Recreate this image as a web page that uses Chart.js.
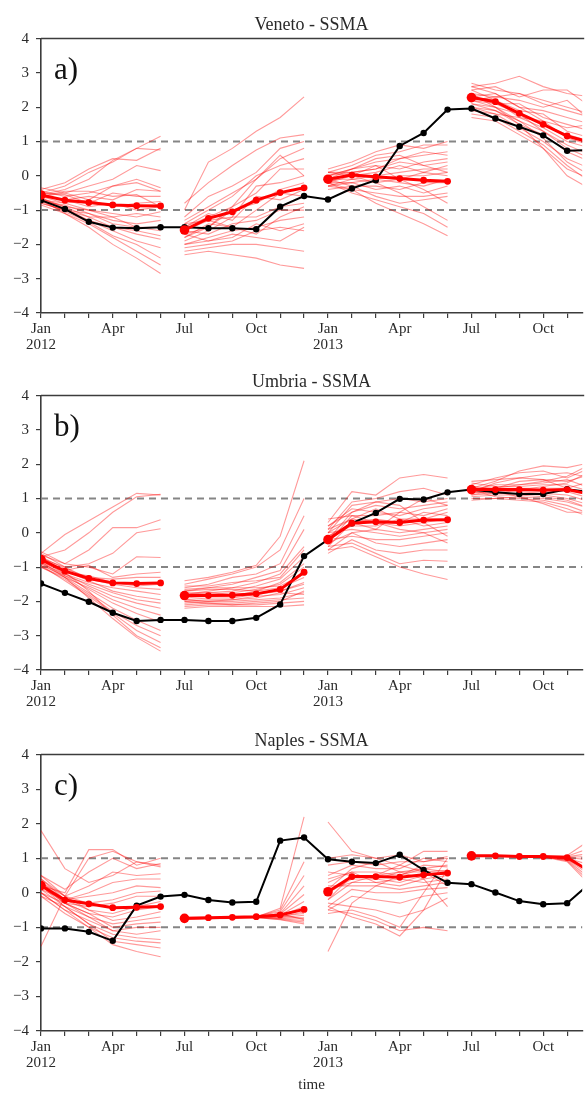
<!DOCTYPE html>
<html>
<head>
<meta charset="utf-8">
<script src="https://cdn.jsdelivr.net/npm/chart.js@4.4.1/dist/chart.umd.min.js"></script>
<style>
  html, body { margin: 0; padding: 0; background: #ffffff; overflow: hidden; }
  body { width: 587px; height: 1094px; position: relative; }
  .panel { position: absolute; left: 0; width: 587px; }
  .tag { position: absolute; left: 54px; font-family: 'Liberation Serif', serif; font-size: 31px; color: #111; line-height: 1; }
</style>
</head>
<body>
<div class="panel" style="top:0px;height:360px;"><canvas id="cA" width="587" height="360"></canvas></div>
<div class="panel" style="top:357px;height:360px;"><canvas id="cB" width="587" height="360"></canvas></div>
<div class="panel" style="top:716px;height:378px;"><canvas id="cC" width="587" height="378"></canvas></div>
<div class="tag" style="top:53px;">a)</div>
<div class="tag" style="top:410px;">b)</div>
<div class="tag" style="top:769px;">c)</div>
<script>
// ---------- axis / tick data ----------
const tickMonths = [0, 3, 6, 9, 12, 15, 18, 21];
const tickText = [['Jan', '2012'], 'Apr', 'Jul', 'Oct', ['Jan', '2013'], 'Apr', 'Jul', 'Oct'];
const segStarts = [0, 6, 12, 18];
const yTicks = [-4, -3, -2, -1, 0, 1, 2, 3, 4];
const thresholds = [1, -1];

// ---------- a) Veneto ----------
const vnObs = [-0.71, -0.97, -1.34, -1.51, -1.53, -1.50, -1.50, -1.53, -1.53, -1.56, -0.90, -0.59,
               -0.69, -0.37, -0.13, 0.87, 1.25, 1.93, 1.96, 1.67, 1.43, 1.18, 0.73, 0.75];
const vnMean1 = [-0.56, -0.71, -0.78, -0.85, -0.87, -0.88];
const vnMean2 = [-1.58, -1.24, -1.05, -0.71, -0.49, -0.35];
const vnMean3 = [-0.10, 0.02, -0.03, -0.08, -0.13, -0.16];
const vnMean4 = [2.28, 2.16, 1.82, 1.50, 1.16, 0.97];
const vnEns1 = [
  [-0.5, -0.3, 0.1, 0.4, 0.8, 1.15], [-0.4, -0.2, 0.2, 0.5, 0.45, 0.8], [-0.55, -0.4, -0.1, 0.45, 0.8, 0.75],
  [-0.6, -0.5, -0.3, -0.1, 0.3, 0.15], [-0.45, -0.6, -0.5, -0.3, -0.1, -0.35], [-0.6, -0.7, -0.6, -0.7, -0.4, -0.45],
  [-0.5, -0.55, -0.8, -0.5, -0.6, -0.6], [-0.7, -0.8, -0.7, -0.9, -0.8, -0.75], [-0.55, -0.7, -0.9, -0.8, -1.0, -0.9],
  [-0.65, -0.9, -1.0, -1.1, -1.2, -1.05], [-0.6, -0.8, -1.0, -1.2, -1.1, -1.2], [-0.75, -0.85, -1.1, -1.3, -1.4, -1.3],
  [-0.7, -0.9, -1.2, -1.2, -1.5, -1.5], [-0.8, -1.0, -1.1, -1.4, -1.5, -1.6], [-0.65, -0.95, -1.3, -1.5, -1.6, -1.75],
  [-0.7, -1.0, -1.2, -1.5, -1.7, -1.85], [-0.8, -1.0, -1.3, -1.6, -1.9, -2.1], [-0.75, -1.05, -1.35, -1.75, -2.0, -2.4],
  [-0.85, -1.1, -1.4, -1.8, -2.2, -2.6], [-0.7, -1.1, -1.5, -2.0, -2.4, -2.85], [-0.35, -0.5, -0.7, -0.3, -0.2, -0.45],
  [-0.6, -0.45, -0.45, -0.6, -0.55, -0.9]
];
const vnEns2 = [
  [-1.0, 0.4, 0.8, 1.3, 1.7, 2.3], [-0.8, -0.2, 0.3, 0.75, 1.1, 1.2], [-1.2, -0.6, -0.3, 0.1, 0.8, 1.0],
  [-1.3, -0.9, -0.5, -0.1, 0.5, 0.8], [-1.4, -1.0, -0.6, 0.0, 0.3, 0.5], [-1.5, -1.2, -0.9, -0.5, 0.2, 0.2],
  [-1.6, -1.3, -1.2, -0.3, -0.2, 0.0], [-1.7, -1.5, -1.0, -0.8, -0.4, -0.2], [-1.5, -1.1, -1.3, -0.6, -0.7, -0.4],
  [-1.8, -1.4, -1.5, -1.0, -0.5, -0.6], [-1.9, -1.6, -1.2, -1.2, -0.9, -0.8], [-1.6, -1.7, -1.4, -1.3, -1.0, -1.0],
  [-2.0, -1.8, -1.6, -1.5, -1.3, -1.2], [-1.7, -1.9, -1.8, -1.4, -1.6, -1.4], [-2.1, -2.0, -1.9, -1.6, -1.5, -1.6],
  [-2.2, -2.1, -2.0, -2.0, -2.1, -2.2], [-2.3, -2.2, -2.3, -2.4, -2.6, -2.7], [-1.8, -1.5, -0.9, -0.1, 0.6, 0.0],
  [-2.0, -1.9, -1.7, -1.8, -1.9, -1.5], [-1.4, -1.3, -1.5, -1.7, -1.2, -0.9]
];
const vnEns3 = [
  [0.2, 0.4, 0.7, 0.9, 0.8, 1.0], [0.1, 0.3, 0.6, 0.7, 0.9, 0.9], [0.0, 0.2, 0.4, 0.5, 0.6, 0.7],
  [-0.1, 0.2, 0.3, 0.2, 0.4, 0.5], [0.1, 0.1, 0.2, 0.4, 0.3, 0.4], [-0.2, 0.0, 0.1, 0.3, 0.1, 0.3],
  [-0.1, -0.1, 0.0, 0.1, 0.2, 0.2], [0.0, 0.1, -0.1, 0.0, 0.0, 0.1], [-0.3, -0.1, -0.2, -0.1, 0.1, 0.0],
  [-0.2, -0.2, -0.1, -0.2, -0.3, -0.1], [-0.1, -0.3, -0.3, -0.4, -0.2, -0.2], [-0.3, -0.2, -0.4, -0.3, -0.5, -0.3],
  [-0.2, -0.4, -0.5, -0.6, -0.6, -0.5], [-0.4, -0.3, -0.6, -0.8, -0.7, -0.6], [-0.2, -0.5, -0.7, -0.9, -1.1, -1.5],
  [-0.3, -0.4, -0.8, -1.1, -1.4, -1.75], [0.0, 0.2, 0.5, 0.6, 0.3, 0.1], [-0.1, 0.0, 0.3, -0.1, -0.4, -0.8],
  [0.1, 0.0, -0.2, -0.5, -0.9, -1.3], [-0.2, 0.1, 0.2, 0.5, 0.7, 0.6]
];
const vnEns4 = [
  [2.6, 2.7, 2.9, 2.6, 2.4, 2.3], [2.5, 2.6, 2.3, 2.5, 2.5, 2.0], [2.7, 2.5, 2.4, 2.2, 2.0, 1.8],
  [2.4, 2.3, 2.2, 2.0, 2.2, 1.6], [2.3, 2.4, 2.0, 1.9, 1.7, 1.5], [2.2, 2.1, 2.1, 1.7, 1.5, 1.3],
  [2.5, 2.2, 1.9, 1.8, 1.3, 1.1], [2.1, 2.0, 1.8, 1.5, 1.2, 1.0], [2.3, 2.2, 1.7, 1.4, 1.0, 0.8],
  [2.0, 1.9, 1.6, 1.3, 0.9, 0.6], [2.2, 2.0, 1.5, 1.2, 0.7, 0.4], [1.9, 1.8, 1.4, 1.0, 0.5, 0.2],
  [2.4, 2.0, 1.6, 1.1, 0.4, 0.0], [1.8, 1.7, 1.3, 0.9, 0.3, -0.2], [2.1, 1.9, 1.5, 0.8, 0.0, -0.4],
  [2.6, 2.4, 2.0, 1.6, 1.4, 1.5], [2.0, 1.8, 1.7, 1.6, 1.1, 0.9], [2.3, 2.1, 1.8, 1.3, 0.8, 0.5],
  [1.7, 1.6, 1.2, 0.8, 0.2, -0.1], [2.2, 2.3, 2.4, 2.1, 1.9, 1.7]
];

// ---------- b) Umbria ----------
const umObs = [-1.48, -1.75, -2.01, -2.33, -2.57, -2.54, -2.54, -2.57, -2.57, -2.48, -2.09, -0.68,
               -0.20, 0.28, 0.58, 0.99, 0.97, 1.18, 1.26, 1.18, 1.13, 1.13, 1.27, 1.18];
const umMean1 = [-0.78, -1.12, -1.33, -1.46, -1.48, -1.46];
const umMean2 = [-1.83, -1.83, -1.82, -1.78, -1.65, -1.15];
const umMean3 = [-0.20, 0.28, 0.32, 0.30, 0.37, 0.38];
const umMean4 = [1.26, 1.26, 1.26, 1.24, 1.26, 1.12];
const umEns1 = [
  [-0.6, -0.05, 0.35, 0.75, 1.15, 1.1], [-0.7, -0.5, 0.0, 0.6, 1.05, 1.12], [-0.65, -0.9, -0.5, 0.15, 0.15, 0.38],
  [-0.75, -1.0, -0.9, -0.6, 0.0, 0.12], [-0.55, -0.9, -1.0, -1.2, -0.7, -0.72], [-0.8, -1.1, -0.95, -1.3, -1.2, -1.15],
  [-0.7, -1.05, -1.3, -1.35, -1.3, -1.3], [-0.85, -1.15, -1.25, -1.45, -1.55, -1.5], [-0.6, -1.0, -1.35, -1.5, -1.6, -1.65],
  [-0.9, -1.2, -1.45, -1.6, -1.7, -1.8], [-0.75, -1.1, -1.4, -1.7, -1.85, -1.95], [-0.95, -1.25, -1.5, -1.75, -1.95, -2.05],
  [-0.8, -1.2, -1.55, -1.85, -2.05, -2.2], [-1.0, -1.3, -1.6, -1.95, -2.2, -2.4], [-0.85, -1.25, -1.65, -2.05, -2.35, -2.6],
  [-0.9, -1.3, -1.75, -2.2, -2.55, -2.85], [-1.0, -1.35, -1.8, -2.3, -2.7, -3.0], [-0.95, -1.4, -1.85, -2.35, -2.85, -3.2],
  [-0.7, -1.15, -1.7, -2.4, -3.0, -3.35], [-0.85, -1.3, -1.9, -2.5, -3.05, -3.45]
];
const umEns2 = [
  [-1.4, -1.3, -1.15, -0.95, -0.1, 2.1], [-1.5, -1.35, -1.2, -1.0, -0.5, 1.0], [-1.6, -1.5, -1.3, -1.2, -0.9, 0.5],
  [-1.7, -1.6, -1.5, -1.3, -1.1, 0.1], [-1.8, -1.7, -1.6, -1.45, -1.2, -0.4], [-1.75, -1.75, -1.7, -1.55, -1.35, -0.7],
  [-1.85, -1.8, -1.75, -1.65, -1.5, -1.0], [-1.9, -1.85, -1.85, -1.7, -1.6, -1.3], [-1.95, -1.9, -1.9, -1.8, -1.7, -1.5],
  [-2.0, -1.95, -1.95, -1.85, -1.8, -1.6], [-2.05, -2.0, -2.0, -1.95, -1.9, -1.75], [-2.1, -2.05, -2.05, -2.0, -1.95, -1.9],
  [-2.15, -2.1, -2.1, -2.1, -2.05, -2.0], [-2.2, -2.15, -2.15, -2.15, -2.15, -2.1], [-1.65, -1.6, -1.6, -1.6, -1.55, -1.2],
  [-1.55, -1.55, -1.45, -1.4, -1.3, -0.5], [-1.8, -1.75, -1.8, -1.75, -1.7, -1.45], [-1.95, -2.0, -1.95, -1.9, -1.75, -1.8],
  [-2.0, -2.05, -2.1, -2.05, -2.0, -1.7], [-1.7, -1.65, -1.65, -1.7, -1.45, -0.9]
];
const umEns3 = [
  [0.3, 1.2, 1.1, 1.6, 1.7, 1.6], [0.1, 0.9, 1.0, 1.2, 1.3, 1.1], [0.0, 0.8, 0.9, 1.0, 0.9, 1.0],
  [-0.2, 0.6, 0.8, 0.7, 0.8, 0.9], [0.2, 0.7, 0.6, 0.5, 0.7, 0.8], [-0.3, 0.5, 0.5, 0.6, 0.5, 0.7],
  [0.1, 0.4, 0.7, 0.4, 0.4, 0.6], [-0.4, 0.3, 0.4, 0.3, 0.6, 0.5], [0.4, 0.5, 0.3, 0.2, 0.3, 0.4],
  [-0.1, 0.2, 0.2, 0.4, 0.2, 0.3], [-0.5, 0.0, 0.1, 0.0, 0.1, 0.2], [0.0, 0.1, 0.0, -0.1, 0.0, 0.1],
  [-0.2, -0.1, -0.2, -0.2, -0.1, 0.0], [-0.3, 0.0, -0.3, -0.4, -0.3, -0.2], [-0.6, -0.2, -0.5, -0.6, -0.5, -0.5],
  [-0.4, -0.3, -0.6, -0.9, -0.8, -0.83], [-0.5, -0.4, -0.7, -1.0, -1.2, -1.36], [0.2, 0.6, 0.9, 0.8, 0.3, -0.1],
  [-0.1, 0.3, 0.1, 0.6, 1.0, 0.8], [0.0, 0.4, 0.3, 0.1, 0.0, -0.3]
];
const umEns4 = [
  [1.3, 1.5, 1.8, 1.95, 1.9, 2.05], [1.4, 1.6, 1.75, 1.8, 1.6, 1.9], [1.2, 1.45, 1.6, 1.7, 1.75, 1.6],
  [1.35, 1.3, 1.5, 1.55, 1.5, 1.7], [1.25, 1.4, 1.4, 1.45, 1.55, 1.3], [1.45, 1.35, 1.35, 1.4, 1.4, 1.2],
  [1.15, 1.3, 1.3, 1.3, 1.3, 1.5], [1.3, 1.2, 1.25, 1.25, 1.2, 1.0], [1.1, 1.25, 1.2, 1.15, 1.1, 0.9],
  [1.2, 1.15, 1.15, 1.1, 1.0, 0.8], [1.05, 1.1, 1.1, 1.05, 0.95, 0.7], [1.25, 1.05, 1.0, 0.95, 0.8, 0.55],
  [1.0, 1.0, 0.95, 0.9, 0.7, 0.45], [1.35, 1.2, 1.05, 0.85, 0.6, 0.6], [1.1, 1.15, 1.25, 1.35, 1.45, 1.8],
  [1.5, 1.55, 1.6, 1.55, 1.3, 1.1], [1.2, 1.3, 1.4, 1.5, 1.65, 2.0], [0.95, 1.0, 1.05, 1.0, 0.9, 0.7]
];

// ---------- c) Naples ----------
const naObs = [-1.03, -1.03, -1.13, -1.39, -0.37, -0.11, -0.06, -0.21, -0.28, -0.26, 1.51, 1.60,
               0.97, 0.90, 0.86, 1.10, 0.66, 0.29, 0.25, 0.01, -0.24, -0.33, -0.30, 0.30];
const naMean1 = [0.21, -0.21, -0.32, -0.43, -0.42, -0.40];
const naMean2 = [-0.74, -0.72, -0.71, -0.69, -0.64, -0.48];
const naMean3 = [0.03, 0.47, 0.47, 0.45, 0.52, 0.57];
const naMean4 = [1.07, 1.07, 1.05, 1.05, 1.02, 0.60];
const naEns1 = [
  [1.8, 0.7, 0.3, 0.5, 0.9, 0.8], [-1.55, -0.1, 1.0, 1.2, 0.9, 0.75], [0.2, 0.0, 1.25, 1.25, 0.8, 1.0],
  [0.5, 0.1, 0.6, 1.0, 0.7, 0.85], [0.3, -0.1, 0.2, 0.6, 0.5, 0.55], [0.4, -0.2, 0.0, 0.3, 0.4, 0.4],
  [0.1, -0.2, -0.1, 0.0, 0.2, 0.15], [0.5, -0.1, -0.3, -0.2, 0.0, 0.05], [0.0, -0.3, -0.4, -0.3, -0.1, -0.1],
  [0.3, -0.2, -0.5, -0.6, -0.4, -0.25], [0.2, -0.3, -0.6, -0.7, -0.5, -0.4], [0.4, -0.1, -0.5, -0.8, -0.7, -0.55],
  [-0.1, -0.4, -0.7, -0.9, -0.8, -0.7], [0.2, -0.3, -0.6, -1.0, -0.9, -0.85], [0.0, -0.5, -0.8, -1.1, -1.0, -1.0],
  [0.3, -0.3, -0.7, -1.1, -1.2, -1.1], [0.1, -0.4, -0.9, -1.2, -1.3, -1.35], [-0.1, -0.6, -1.0, -1.3, -1.4, -1.45],
  [0.2, -0.4, -0.9, -1.4, -1.5, -1.6], [0.0, -0.5, -1.0, -1.5, -1.7, -1.85]
];
const naEns2 = [
  [-0.74, -0.73, -0.72, -0.70, -0.45, 2.2], [-0.75, -0.74, -0.72, -0.69, -0.50, 0.9], [-0.73, -0.72, -0.70, -0.68, -0.55, 0.5],
  [-0.76, -0.75, -0.73, -0.70, -0.60, 0.2], [-0.74, -0.73, -0.71, -0.69, -0.62, -0.05], [-0.75, -0.74, -0.72, -0.70, -0.65, -0.25],
  [-0.74, -0.72, -0.70, -0.68, -0.67, -0.4], [-0.76, -0.74, -0.73, -0.71, -0.70, -0.55], [-0.75, -0.74, -0.72, -0.70, -0.72, -0.65],
  [-0.75, -0.73, -0.72, -0.71, -0.74, -0.72], [-0.74, -0.73, -0.71, -0.70, -0.75, -0.8], [-0.76, -0.75, -0.74, -0.72, -0.77, -0.85],
  [-0.75, -0.74, -0.73, -0.71, -0.78, -0.9], [-0.73, -0.72, -0.70, -0.69, -0.68, -0.6], [-0.74, -0.73, -0.72, -0.70, -0.66, -0.75],
  [-0.75, -0.74, -0.72, -0.70, -0.60, -0.78]
];
const naEns3 = [
  [2.05, 1.2, 1.0, 1.1, 0.9, 1.0], [-1.7, -0.3, 0.2, 0.5, 0.7, 0.8], [1.0, 1.1, 1.0, 0.8, 1.2, 1.2],
  [0.8, 0.9, 0.8, 0.9, 0.9, 1.05], [0.5, 0.8, 0.7, 0.7, 1.0, 0.9], [0.3, 0.6, 0.6, 0.5, 0.8, 0.75],
  [0.6, 0.5, 0.5, 0.6, 0.6, 0.65], [0.0, 0.4, 0.4, 0.3, 0.5, 0.55], [-0.2, 0.3, 0.3, 0.4, 0.3, 0.4],
  [0.2, 0.2, 0.2, 0.1, 0.2, 0.3], [-0.4, 0.1, 0.0, 0.0, 0.1, 0.15], [-0.5, -0.1, -0.2, -0.3, -0.1, 0.0],
  [-0.3, -0.4, -0.5, -0.7, -0.5, -0.15], [-0.5, -0.6, -0.8, -1.1, -1.0, -1.1], [-0.4, -0.7, -0.9, -1.25, -0.5, 0.7],
  [-0.6, -0.5, -0.7, -1.0, 0.0, 1.0], [0.1, 0.7, 0.9, 0.6, 0.4, 0.5], [-0.2, 0.5, 0.4, 0.6, 0.7, 0.6],
  [0.4, 0.6, 0.3, 0.2, 0.4, -0.4], [0.1, 0.3, 0.5, 0.8, 0.6, 0.2]
];
const naEns4 = [
  [1.07, 1.07, 1.06, 1.06, 1.08, 1.55], [1.08, 1.07, 1.06, 1.05, 1.06, 1.3], [1.06, 1.06, 1.05, 1.05, 1.04, 1.15],
  [1.07, 1.06, 1.05, 1.04, 1.02, 0.95], [1.08, 1.07, 1.06, 1.05, 1.00, 0.8], [1.07, 1.07, 1.05, 1.05, 0.98, 0.65],
  [1.06, 1.06, 1.05, 1.04, 0.96, 0.5], [1.07, 1.06, 1.05, 1.04, 0.94, 0.4], [1.08, 1.07, 1.06, 1.05, 0.92, 0.3],
  [1.07, 1.07, 1.06, 1.04, 0.90, 0.2], [1.06, 1.06, 1.05, 1.05, 1.03, 1.05], [1.07, 1.07, 1.06, 1.05, 0.97, 0.6]
];

// ---------- styling ----------
const FONT = "'Liberation Serif', 'DejaVu Serif', serif";
const AXIS_COL = '#3c3c3c';
const TEXT_COL = '#2a2a2a';
const X_MAX = 22.63; // right edge of the visible (cropped) axis, in months since Jan 2012

const frameTop = {
  id: 'frameTop',
  afterDraw(chart) {
    const a = chart.chartArea, ctx = chart.ctx;
    ctx.save();
    ctx.strokeStyle = AXIS_COL;
    ctx.lineWidth = 1.5;
    ctx.beginPath();
    ctx.moveTo(a.left, a.top);
    ctx.lineTo(a.right + 2, a.top);
    ctx.stroke();
    ctx.restore();
  }
};

function seriesPoints(vals, start) {
  return vals.map((v, i) => ({ x: start + i, y: v }));
}

function buildPanel(id, title, obs, means, ens, xAxisHeight, showXTitle) {
  const datasets = [];
  thresholds.forEach(t => datasets.push({
    data: [{ x: 0, y: t }, { x: 23, y: t }],
    borderColor: '#858585', borderWidth: 2, borderDash: [7, 5],
    pointRadius: 0, order: 5
  }));
  ens.forEach((seg, s) => seg.forEach(m => datasets.push({
    data: seriesPoints(m, segStarts[s]),
    borderColor: 'rgba(255,0,0,0.4)', borderWidth: 1.1,
    pointRadius: 0, order: 4
  })));
  datasets.push({
    data: seriesPoints(obs, 0),
    borderColor: '#000000', borderWidth: 2,
    pointRadius: 3.2, pointBackgroundColor: '#000000', pointBorderWidth: 0,
    order: 1
  });
  means.forEach((m, s) => datasets.push({
    data: seriesPoints(m, segStarts[s]),
    borderColor: '#ff0000', borderWidth: 3,
    pointRadius: m.map((v, i) => i === 0 ? 4.8 : 3.4),
    pointBackgroundColor: '#ff0000', pointBorderWidth: 0,
    order: 0
  }));

  return new Chart(document.getElementById(id), {
    type: 'line',
    data: { datasets },
    options: {
      responsive: false,
      animation: false,
      devicePixelRatio: 1,
      layout: { padding: { left: 0, right: 0, top: 0, bottom: 0 } },
      elements: { line: { tension: 0 } },
      plugins: {
        legend: { display: false },
        tooltip: { enabled: false },
        title: {
          display: true, text: title, fullSize: false,
          color: TEXT_COL,
          font: { family: FONT, size: 18, weight: 'normal', lineHeight: 1.2 },
          padding: { top: 14, bottom: 3 }
        }
      },
      scales: {
        x: {
          type: 'linear', min: 0, max: X_MAX,
          afterBuildTicks(scale) {
            const t = [];
            for (let i = 0; i <= 22; i++) t.push({ value: i });
            scale.ticks = t;
          },
          afterFit(scale) { scale.height = xAxisHeight; },
          ticks: {
            autoSkip: false, maxRotation: 0, minRotation: 0, padding: 3,
            color: TEXT_COL, font: { family: FONT, size: 15, lineHeight: 1.05 },
            callback(v) {
              const k = tickMonths.indexOf(v);
              return k >= 0 ? tickText[k] : '';
            }
          },
          grid: { drawOnChartArea: false, drawTicks: true, tickLength: 5, color: AXIS_COL, lineWidth: 1.2 },
          border: { display: true, color: AXIS_COL, width: 1.6 },
          title: {
            display: showXTitle, text: 'time', color: TEXT_COL,
            font: { family: FONT, size: 15 }, padding: { top: 2, bottom: 0 }
          }
        },
        y: {
          min: -4, max: 4,
          afterBuildTicks(scale) { scale.ticks = yTicks.map(v => ({ value: v })); },
          afterFit(scale) { scale.width = 41; },
          ticks: {
            padding: 7, color: TEXT_COL, font: { family: FONT, size: 15 },
            callback(v) { return v < 0 ? '\u2212' + Math.abs(v) : String(v); }
          },
          grid: { drawOnChartArea: false, drawTicks: true, tickLength: 5, color: AXIS_COL, lineWidth: 1.2 },
          border: { display: true, color: AXIS_COL, width: 1.6 }
        }
      }
    },
    plugins: [frameTop]
  });
}

buildPanel('cA', 'Veneto - SSMA', vnObs, [vnMean1, vnMean2, vnMean3, vnMean4], [vnEns1, vnEns2, vnEns3, vnEns4], 47, false);
buildPanel('cB', 'Umbria - SSMA', umObs, [umMean1, umMean2, umMean3, umMean4], [umEns1, umEns2, umEns3, umEns4], 47, false);
buildPanel('cC', 'Naples - SSMA', naObs, [naMean1, naMean2, naMean3, naMean4], [naEns1, naEns2, naEns3, naEns4], 63, true);
</script>
</body>
</html>
